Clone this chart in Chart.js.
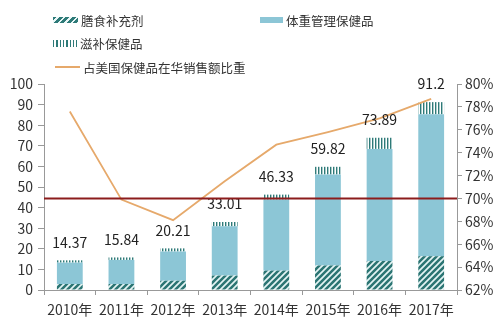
<!DOCTYPE html>
<html lang="zh">
<head>
  <meta charset="UTF-8" />
  <title>保健品市场规模</title>
  <script src="https://cdn.jsdelivr.net/npm/chart.js"></script>
  <style>
    body {
      margin: 0;
      background: #fff;
      font-family: 'Noto Sans CJK SC', sans-serif;
    }
    .wrap {
      position: relative;
      width: 500px;
      height: 321px;
    }
    canvas {
      position: absolute;
      left: 0;
      top: 0;
    }
    .lg {
      position: absolute;
      height: 18px;
      display: flex;
      align-items: center;
      font-size: 12.5px;
      color: #333;
      white-space: nowrap;
    }
    .mk {
      display: inline-block;
      margin-right: 3px;
    }
  </style>
</head>
<body>
  <div class="wrap">
    <canvas id="chart" width="500" height="321"></canvas>
    <div class="lg" style="left:53px;top:11px">
      <span class="mk" style="width:25px;height:6px;background:repeating-linear-gradient(135deg,#2e7a78 0 2.8px,#eaf7f7 2.8px 4.5px)"></span>膳食补充剂
    </div>
    <div class="lg" style="left:260px;top:11px">
      <span class="mk" style="width:23px;height:6px;background:#8cc6d6"></span>体重管理保健品
    </div>
    <div class="lg" style="left:53px;top:34px">
      <span class="mk" style="width:24px;height:7px;background:repeating-linear-gradient(90deg,#2e7a78 0 1.5px,#fff 1.5px 3.3px)"></span>滋补保健品
    </div>
    <div class="lg" style="left:55px;top:58px">
      <span class="mk" style="width:25px;height:2px;background:#e6a96b"></span>占美国保健品在华销售额比重
    </div>
  </div>

  <script>
    const years = ['2010年', '2011年', '2012年', '2013年', '2014年', '2015年', '2016年', '2017年'];
    const dietary = [2.9, 2.9, 4.5, 7.0, 9.4, 11.9, 14.1, 16.4];
    const weight = [10.4, 11.7, 14.2, 23.9, 34.5, 44.2, 54.4, 68.9];
    const tonic = [1.1, 1.2, 1.5, 2.1, 2.4, 3.7, 5.4, 5.9];
    const totals = [14.37, 15.84, 20.21, 33.01, 46.33, 59.82, 73.89, 91.2];
    const share = [77.6, 69.9, 68.1, 71.5, 74.7, 75.8, 77.0, 78.7];
    const refShare = 70;

    // fill patterns for the two textured segments
    function hatchPattern() {
      const c = document.createElement('canvas');
      c.width = 6; c.height = 6;
      const g = c.getContext('2d');
      g.fillStyle = '#2b7573';
      g.fillRect(0, 0, 6, 6);
      g.strokeStyle = '#e4f4f4';
      g.lineWidth = 1.7;
      g.beginPath();
      g.moveTo(0, 6); g.lineTo(6, 0);
      g.moveTo(-1, 1); g.lineTo(1, -1);
      g.moveTo(5, 7); g.lineTo(7, 5);
      g.stroke();
      return g.createPattern(c, 'repeat');
    }

    function stripePattern() {
      const c = document.createElement('canvas');
      c.width = 3; c.height = 3;
      const g = c.getContext('2d');
      g.fillStyle = '#ffffff';
      g.fillRect(0, 0, 3, 3);
      g.fillStyle = '#2e7a78';
      g.fillRect(0, 0, 1.4, 3);
      return g.createPattern(c, 'repeat');
    }

    const overlay = {
      id: 'overlay',
      afterDatasetsDraw(chart) {
        const { ctx, scales } = chart;
        ctx.save();
        ctx.font = '14px "Noto Sans CJK SC", sans-serif';
        ctx.fillStyle = '#222';
        ctx.textAlign = 'center';
        ctx.textBaseline = 'middle';
        totals.forEach((v, i) => {
          const x = scales.x.getPixelForValue(i);
          const y = scales.y.getPixelForValue(v);
          ctx.fillText(String(v), x, y - 18);
        });
        ctx.restore();
      },
      afterDraw(chart) {
        const { ctx, chartArea, scales } = chart;
        const y = scales.y1.getPixelForValue(refShare);
        ctx.save();
        ctx.strokeStyle = '#8c1c1c';
        ctx.lineWidth = 2;
        ctx.beginPath();
        ctx.moveTo(chartArea.left, y);
        ctx.lineTo(chartArea.right, y);
        ctx.stroke();
        ctx.restore();
      }
    };

    const tickFont = { family: '"Noto Sans CJK SC", sans-serif', size: 14 };

    new Chart(document.getElementById('chart'), {
      data: {
        labels: years,
        datasets: [
          {
            type: 'line',
            label: '占美国保健品在华销售额比重',
            data: share,
            yAxisID: 'y1',
            borderColor: '#e6a96b',
            borderWidth: 1.8,
            pointRadius: 0,
            tension: 0,
            order: 0
          },
          {
            type: 'bar',
            label: '膳食补充剂',
            data: dietary,
            backgroundColor: hatchPattern(),
            barPercentage: 0.5,
            categoryPercentage: 1,
            order: 1
          },
          {
            type: 'bar',
            label: '体重管理保健品',
            data: weight,
            backgroundColor: '#8cc6d6',
            barPercentage: 0.5,
            categoryPercentage: 1,
            order: 1
          },
          {
            type: 'bar',
            label: '滋补保健品',
            data: tonic,
            backgroundColor: stripePattern(),
            barPercentage: 0.5,
            categoryPercentage: 1,
            order: 1
          }
        ]
      },
      options: {
        responsive: false,
        animation: false,
        layout: { padding: { top: 84, left: 0, right: 0, bottom: 0 } },
        plugins: {
          legend: { display: false },
          tooltip: { enabled: false }
        },
        scales: {
          x: {
            stacked: true,
            afterFit: s => { s.height = 31; },
            grid: { offset: true, drawOnChartArea: false, tickLength: 5, color: '#999' },
            border: { color: '#999' },
            ticks: { color: '#333', font: tickFont, padding: 6, maxRotation: 0 }
          },
          y: {
            stacked: true,
            min: 0,
            max: 100,
            afterFit: s => { s.width = 44; },
            grid: { drawOnChartArea: false, tickLength: 6, color: '#999' },
            border: { color: '#999' },
            ticks: { stepSize: 10, color: '#333', font: tickFont, padding: 5 }
          },
          y1: {
            position: 'right',
            min: 62,
            max: 80,
            afterFit: s => { s.width = 43; },
            grid: { drawOnChartArea: false, tickLength: 5, color: '#999' },
            border: { color: '#999' },
            ticks: { stepSize: 2, color: '#333', font: tickFont, padding: 3, callback: v => v + '%' }
          }
        }
      },
      plugins: [overlay]
    });
  </script>
</body>
</html>
